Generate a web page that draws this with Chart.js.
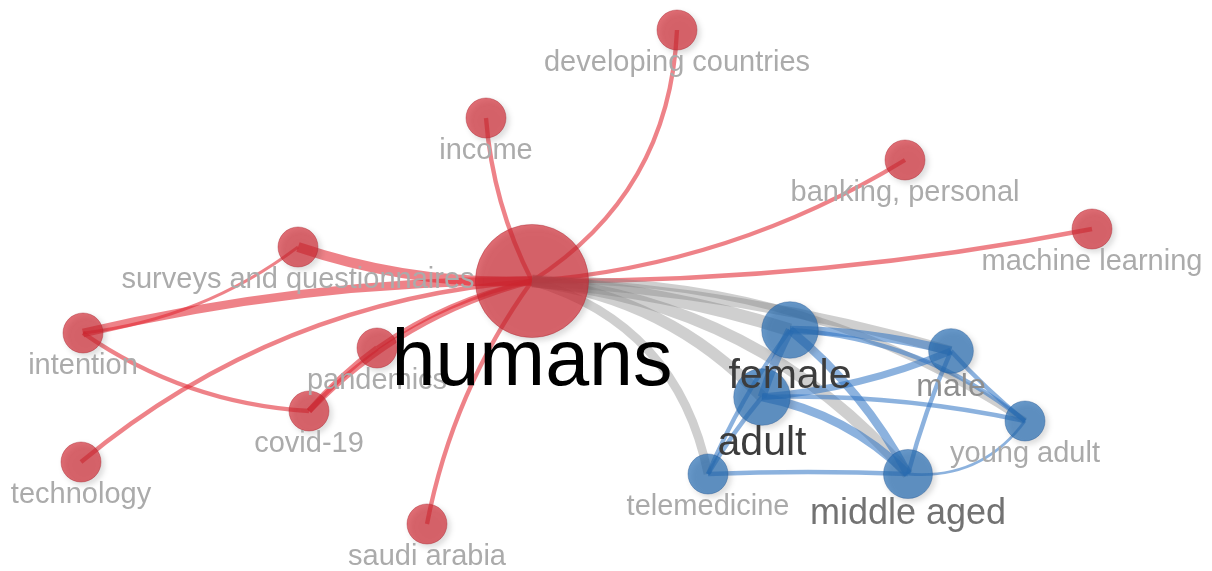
<!DOCTYPE html>
<html>
<head>
<meta charset="utf-8">
<script src="https://cdn.jsdelivr.net/npm/chart.js@4.4.0/dist/chart.umd.min.js"></script>
<style>
    html, body { margin: 0; padding: 0; background: #fff; }
    #wrap { width: 1212px; height: 571px; position: relative; }
</style>
</head>
<body>
<div id="wrap"><canvas id="ChMapa"></canvas></div>
<script>
// terms of the map
const Terms = ["humans", "developing countries", "income", "banking, personal", "machine learning",
    "surveys and questionnaires", "intention", "pandemics", "covid-19", "technology", "saudi arabia",
    "female", "adult", "male", "young adult", "middle aged", "telemedicine"];
const MapX = [532, 677, 486, 905, 1092, 298, 83, 377, 309, 81, 427, 790, 762, 951, 1025, 908, 708];
const MapY = [281, 30, 118, 160, 229, 247, 333, 348, 411, 462, 524, 330, 397, 351, 421, 474, 474];
const Weight = [32, 4, 4, 4, 4, 4, 4, 4, 4, 4, 4, 8, 8, 5, 4, 6, 4];
const Cluster = [1, 1, 1, 1, 1, 1, 1, 1, 1, 1, 1, 2, 2, 2, 2, 2, 2];

// links: [from, to, strength]
const Links = [
    [0, 1, 3], [0, 2, 3], [0, 3, 3], [0, 4, 3], [0, 5, 7], [0, 6, 6], [0, 9, 3], [0, 8, 4],
    [0, 7, 3], [7, 8, 4], [0, 10, 3], [6, 5, 2], [6, 8, 3],
    [0, 11, 9], [0, 12, 8], [0, 13, 7], [0, 14, 5], [0, 15, 8], [0, 16, 6],
    [11, 12, 6], [11, 13, 6], [11, 14, 3], [11, 15, 6], [11, 16, 3], [12, 13, 5], [12, 14, 3],
    [12, 15, 6], [12, 16, 3], [13, 15, 3], [13, 14, 3], [14, 15, 2], [16, 15, 3]
];
// curvature of each link (same order)
const LinkBend = [
    0.13, -0.05, 0.06, 0.025, -0.046, 0.03, 0.08, 0.07,
    0.05, 0.03, 0.055, 0.068, 0.07,
    -0.03, -0.09, -0.03, -0.08, -0.1, -0.15,
    0.02, -0.03, -0.08, -0.05, 0.03, 0.04, -0.03,
    -0.075, 0.02, 0.02, 0.02, -0.14, -0.01
];

const NodeColor = { 1: 'rgba(210, 40, 50, 0.68)', 2: 'rgba(40, 110, 180, 0.7)' };
const NodeBorder = { 1: 'rgba(170, 40, 50, 0.4)', 2: 'rgba(40, 90, 150, 0.4)' };
const LinkColor = { 1: 'rgba(225, 40, 50, 0.58)', 2: 'rgba(45, 115, 195, 0.55)', 0: 'rgba(130, 130, 130, 0.38)' };

const Radio = (w) => 10 * Math.sqrt(w);
const FontSize = (w) => Math.min(79, Math.round(14.5 * Math.sqrt(w)));
const LabelColor = (i) => {
    if (Weight[i] >= 20) return '#000';
    if (Cluster[i] == 1) return '#ababab';
    const g = Math.max(60, 170 - 28 * (Weight[i] - 4));
    return `rgb(${g},${g},${g})`;
};

const LinksPlugin = {
    id: 'links',
    beforeDatasetsDraw(chart) {
        const ctx = chart.ctx;
        const sx = chart.scales.x, sy = chart.scales.y;
        ctx.save();
        ctx.lineCap = 'butt';
        Links.forEach((l, k) => {
            const [a, b, s] = l;
            const x1 = sx.getPixelForValue(MapX[a]), y1 = sy.getPixelForValue(MapY[a]);
            const x2 = sx.getPixelForValue(MapX[b]), y2 = sy.getPixelForValue(MapY[b]);
            const dx = x2 - x1, dy = y2 - y1;
            const len = Math.sqrt(dx * dx + dy * dy);
            const px = -dy / len, py = dx / len;
            const cx = (x1 + x2) / 2 + 2 * LinkBend[k] * len * px;
            const cy = (y1 + y2) / 2 + 2 * LinkBend[k] * len * py;
            ctx.strokeStyle = Cluster[a] == Cluster[b] ? LinkColor[Cluster[a]] : LinkColor[0];
            ctx.lineWidth = 1.45 * s;
            ctx.beginPath();
            ctx.moveTo(x1, y1);
            ctx.quadraticCurveTo(cx, cy, x2, y2);
            ctx.stroke();
        });
        ctx.restore();
    }
};

const ShadowPlugin = {
    id: 'sombra',
    beforeDatasetDraw(chart) {
        const ctx = chart.ctx;
        ctx.save();
        ctx.shadowColor = 'rgba(0,0,0,0.22)';
        ctx.shadowBlur = 6;
        ctx.shadowOffsetX = 3;
        ctx.shadowOffsetY = 3;
    },
    afterDatasetDraw(chart) {
        chart.ctx.restore();
    }
};

const LabelsPlugin = {
    id: 'etiquetas',
    afterDatasetsDraw(chart) {
        const ctx = chart.ctx;
        const sx = chart.scales.x, sy = chart.scales.y;
        ctx.save();
        ctx.textAlign = 'center';
        ctx.textBaseline = 'alphabetic';
        const orden = Terms.map((t, i) => i).sort((a, b) => Weight[a] - Weight[b]);
        orden.forEach((i) => {
            const fs = FontSize(Weight[i]);
            const x = sx.getPixelForValue(MapX[i]);
            const y = sy.getPixelForValue(MapY[i]) + Radio(Weight[i]) + (Weight[i] >= 20 ? 0.6 : 0.72) * fs;
            ctx.font = `${fs}px Arial, "Liberation Sans", sans-serif`;
            ctx.fillStyle = LabelColor(i);
            ctx.fillText(Terms[i], x, y);
        });
        ctx.restore();
    }
};

const ctx = document.getElementById('ChMapa');
const ChMapa = new Chart(ctx, {
    type: 'bubble',
    data: {
        datasets: [{
            label: 'terms',
            data: Terms.map((t, i) => ({ x: MapX[i], y: MapY[i], r: Radio(Weight[i]) })),
            backgroundColor: Terms.map((t, i) => NodeColor[Cluster[i]]),
            borderColor: Terms.map((t, i) => NodeBorder[Cluster[i]]),
            borderWidth: 1,
            clip: false
        }]
    },
    options: {
        responsive: true,
        maintainAspectRatio: false,
        animation: false,
        layout: { padding: 0, autoPadding: false },
        scales: {
            x: { type: 'linear', min: 0, max: 1212, display: false },
            y: { type: 'linear', min: 0, max: 571, reverse: true, display: false }
        },
        plugins: {
            legend: { display: false },
            tooltip: { enabled: false }
        }
    },
    plugins: [LinksPlugin, ShadowPlugin, LabelsPlugin]
});
</script>
</body>
</html>
